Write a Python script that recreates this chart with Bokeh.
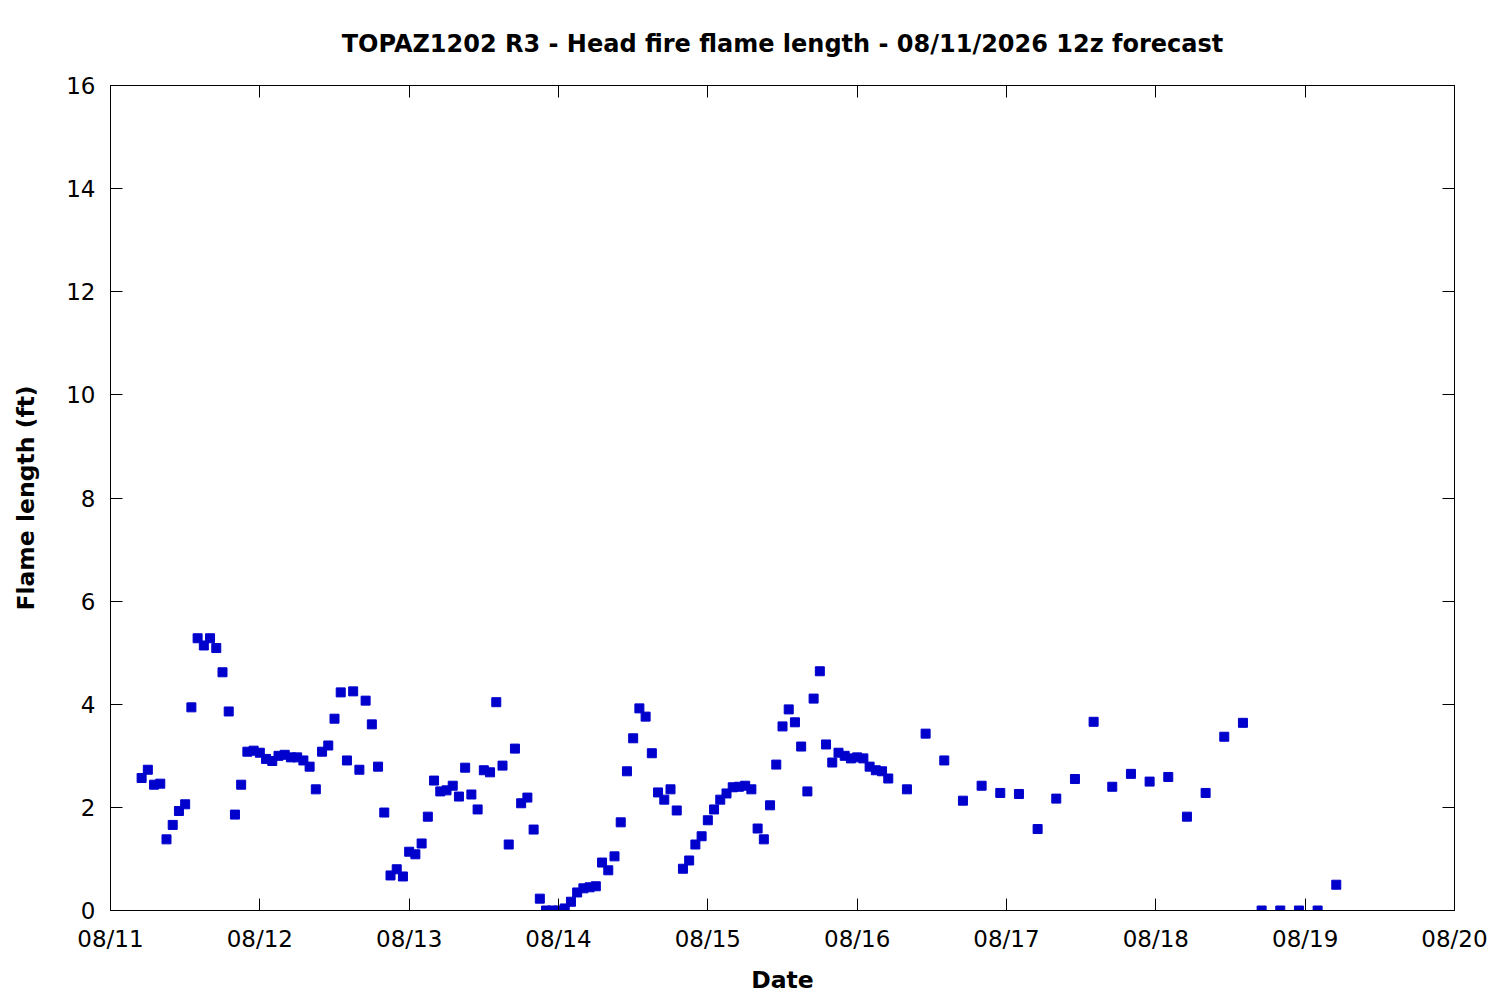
import pandas as pd
from bokeh.plotting import figure
from bokeh.models import (ColumnDataSource, Range1d, FixedTicker, DatetimeTickFormatter,
                          LinearAxis, CustomJSTickFormatter)
from bokeh.embed import file_html
from bokeh.resources import INLINE

TITLE = "TOPAZ1202 R3 - Head fire flame length - 08/11/2026 12z forecast"
X_LABEL = "Date"
Y_LABEL = "Flame length (ft)"

# hourly forecast values (08/11 05:00 .. 08/16 05:00)
hourly_start = "2026-08-11 05:00"
hourly_values = [
    2.57, 2.73, 2.44, 2.46, 1.38, 1.66, 1.93, 2.06, 3.94, 5.28,
    5.14, 5.28, 5.09, 4.62, 3.86, 1.86, 2.44, 3.08, 3.10, 3.06,
    2.94, 2.90, 3.00, 3.02, 2.97, 2.97, 2.91, 2.79, 2.35, 3.08,
    3.20, 3.72, 4.23, 2.91, 4.25, 2.73, 4.07, 3.61, 2.79, 1.90,
    0.68, 0.80, 0.66, 1.14, 1.09, 1.30, 1.82, 2.52, 2.31, 2.33,
    2.42, 2.21, 2.77, 2.25, 1.96, 2.72, 2.68, 4.04, 2.81, 1.28,
    3.14, 2.08, 2.19, 1.57, 0.23, 0.00, 0.00, 0.00, 0.04, 0.17,
    0.35, 0.43, 0.45, 0.47, 0.93, 0.78, 1.05, 1.71, 2.70, 3.34,
    3.92, 3.76, 3.05, 2.29, 2.15, 2.35, 1.94, 0.81, 0.97, 1.28,
    1.44, 1.75, 1.96, 2.15, 2.27, 2.39, 2.40, 2.42, 2.35, 1.59,
    1.38, 2.04, 2.83, 3.57, 3.90, 3.65, 3.18, 2.31, 4.11, 4.64,
    3.22, 2.87, 3.06, 3.00, 2.95, 2.97, 2.95, 2.79, 2.72, 2.70,
    2.56,
]

# 3-hourly forecast values (08/16 08:00 .. 08/19 05:00)
threehourly_start = "2026-08-16 08:00"
threehourly_values = [
    2.35, 3.43, 2.91, 2.13, 2.42, 2.28, 2.26, 1.58, 2.17, 2.55,
    3.66, 2.40, 2.65, 2.50, 2.59, 1.82, 2.28, 3.37, 3.64, 0.00,
    0.00, 0.00, 0.00, 0.50,
]

day_ticks = ["2026-08-11", "2026-08-12", "2026-08-13", "2026-08-14", "2026-08-15",
             "2026-08-16", "2026-08-17", "2026-08-18", "2026-08-19", "2026-08-20"]
y_ticks = [0, 2, 4, 6, 8, 10, 12, 14, 16]

times = list(pd.date_range(hourly_start, periods=len(hourly_values), freq="h")) + \
        list(pd.date_range(threehourly_start, periods=len(threehourly_values), freq="3h"))
values = hourly_values + threehourly_values
src = ColumnDataSource(data=dict(t=times, v=values))

day_ms = [pd.Timestamp(d).value // 10**6 for d in day_ticks]

FONT = "DejaVu Sans"
FS = "23px"
FS_LABEL = "23.5px"
FS_TITLE = "24px"
BLUE = "#0000cd"

p = figure(width=1492, height=996, x_axis_type="datetime",
           x_range=Range1d(day_ms[0], day_ms[-1]), y_range=Range1d(0, 16),
           output_backend="svg", toolbar_location=None,
           min_border_left=110, min_border_right=38, min_border_top=85, min_border_bottom=86)

p.background_fill_color = "white"
p.border_fill_color = "white"
p.outline_line_color = "black"
p.outline_line_width = 1
p.xgrid.visible = False
p.ygrid.visible = False

p.scatter("t", "v", source=src, marker="square", size=9,
          fill_color=BLUE, line_color=BLUE)

# bottom x axis
xa = p.xaxis[0]
xa.ticker = FixedTicker(ticks=day_ms)
fmt = "%m/%d"
xa.formatter = DatetimeTickFormatter(days=fmt, months=fmt, hours=fmt, hourmin=fmt,
                                     minutes=fmt, years=fmt, minsec=fmt, seconds=fmt,
                                     milliseconds=fmt, microseconds=fmt)
xa.axis_label = X_LABEL

ya = p.yaxis[0]
ya.ticker = FixedTicker(ticks=y_ticks)
ya.axis_label = Y_LABEL

for ax in (xa, ya):
    ax.major_tick_in = 12
    ax.major_tick_out = 0
    ax.minor_tick_in = 0
    ax.minor_tick_out = 0
    ax.axis_line_color = "black"
    ax.major_tick_line_color = "black"
    ax.major_label_text_font = FONT
    ax.major_label_text_font_size = FS
    ax.major_label_text_color = "black"
    ax.axis_label_text_font = FONT
    ax.axis_label_text_font_size = FS_LABEL
    ax.axis_label_text_font_style = "bold"
    ax.axis_label_text_color = "black"

xa.major_label_standoff = 15
xa.axis_label_standoff = 11
ya.major_label_standoff = 15
ya.axis_label_standoff = 23

# mirrored ticks on top and right; the chart title sits on the top axis
blank = CustomJSTickFormatter(code="return ''")
top = LinearAxis(ticker=FixedTicker(ticks=day_ms), formatter=blank)
right = LinearAxis(ticker=FixedTicker(ticks=y_ticks), formatter=blank)
for ax in (top, right):
    ax.major_tick_in = 12
    ax.major_tick_out = 0
    ax.minor_tick_in = 0
    ax.minor_tick_out = 0
    ax.axis_line_color = None
    ax.major_tick_line_color = "black"
    ax.major_label_standoff = 0
top.axis_label = TITLE
top.axis_label_text_font = FONT
top.axis_label_text_font_size = FS_TITLE
top.axis_label_text_font_style = "bold"
top.axis_label_text_color = "black"
top.axis_label_standoff = 28
p.add_layout(top, "above")
p.add_layout(right, "right")

open("out.html", "w").write(file_html(p, INLINE))
